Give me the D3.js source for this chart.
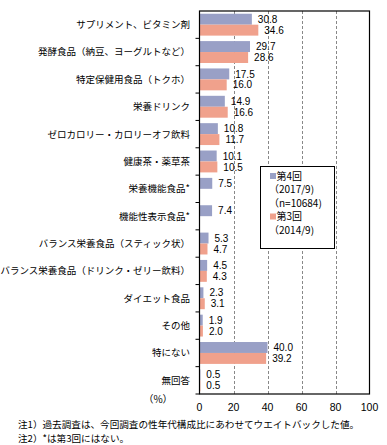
<!DOCTYPE html>
<html>
<head>
<meta charset="utf-8">
<script src="https://cdn.jsdelivr.net/npm/d3@7"></script>
<style>
  body { margin: 0; background: #fff; }
  svg text { font-family: "Noto Sans CJK JP", sans-serif; fill: #000; }
  .num { font-family: "Liberation Sans", Arial, sans-serif; }
</style>
</head>
<body>
<div id="chart"></div>
<script>
// categories (top to bottom)
const categories = [
    "サプリメント、ビタミン剤",
    "発酵食品（納豆、ヨーグルトなど）",
    "特定保健用食品（トクホ）",
    "栄養ドリンク",
    "ゼロカロリー・カロリーオフ飲料",
    "健康茶・薬草茶",
    "栄養機能食品*",
    "機能性表示食品*",
    "バランス栄養食品（スティック状）",
    "バランス栄養食品（ドリンク・ゼリー飲料）",
    "ダイエット食品",
    "その他",
    "特にない",
    "無回答"
];
// 第4回 (2017/9)
const round4 = [30.8, 29.7, 17.5, 14.9, 10.8, 10.1, 7.5, 7.4, 5.3, 4.5, 2.3, 1.9, 40.0, 0.5];
// 第3回 (2014/9), null = not asked
const round3 = [34.6, 28.6, 16.0, 16.6, 11.7, 10.5, null, null, 4.7, 4.3, 3.1, 2.0, 39.2, 0.5];
const xTicks = [0, 20, 40, 60, 80, 100];
const legendLines = ["第4回", "（2017/9)", "（n=10684)", "第3回", "（2014/9)"];
const notes = [
    "注1）過去調査は、今回調査の性年代構成比にあわせてウエイトバックした値。",
    "注2）*は第3回にはない。"
];

const colors = {r4: "#99a0c6", r3: "#f0a18c"};

const W = 387, H = 445;
const plot = {left: 199.5, right: 369.5, top: 11, bottom: 394};

const svg = d3.select("#chart").append("svg")
    .attr("width", W)
    .attr("height", H);

const x = d3.scaleLinear().domain([0, 100]).range([plot.left, plot.right]);
const y = d3.scaleBand().domain(categories)
    .range([plot.top, plot.bottom])
    .paddingInner(0.2).paddingOuter(0.1);
const barH = y.bandwidth() / 2;
const step = y.step();

// gridlines
svg.append("g").selectAll("line")
    .data(xTicks.filter(d => d > 0 && d < 100))
    .enter().append("line")
    .attr("x1", d => Math.round(x(d)) + 0.5)
    .attr("x2", d => Math.round(x(d)) + 0.5)
    .attr("y1", plot.top)
    .attr("y2", plot.bottom)
    .attr("stroke", "#888")
    .attr("stroke-dasharray", "3,2");

// bars
const rows = categories.map((c, i) => ({cat: c, r4: round4[i], r3: round3[i]}));

const groups = svg.append("g").selectAll("g")
    .data(rows)
    .enter().append("g")
    .attr("transform", d => `translate(0,${y(d.cat)})`);

groups.append("rect")
    .attr("x", x(0))
    .attr("y", 0)
    .attr("width", d => x(d.r4) - x(0))
    .attr("height", barH)
    .attr("fill", colors.r4);

groups.filter(d => d.r3 != null).append("rect")
    .attr("x", x(0))
    .attr("y", barH)
    .attr("width", d => x(d.r3) - x(0))
    .attr("height", barH)
    .attr("fill", colors.r3);

// value labels
groups.append("text")
    .attr("class", "num")
    .attr("x", d => x(d.r4) + 6)
    .attr("y", barH / 2)
    .attr("dy", "0.36em")
    .attr("font-size", "10px")
    .text(d => d.r4.toFixed(1));

groups.filter(d => d.r3 != null).append("text")
    .attr("class", "num")
    .attr("x", d => x(d.r3) + 6)
    .attr("y", barH * 1.5)
    .attr("dy", "0.36em")
    .attr("font-size", "10px")
    .text(d => d.r3.toFixed(1));

// category labels
svg.append("g").selectAll("text")
    .data(categories)
    .enter().append("text")
    .attr("x", 190)
    .attr("y", d => y(d) + y.bandwidth() / 2)
    .attr("dy", "0.36em")
    .attr("text-anchor", "end")
    .attr("font-size", "9.5px")
    .text(d => d);

// plot frame
svg.append("rect")
    .attr("x", plot.left)
    .attr("y", plot.top)
    .attr("width", plot.right - plot.left)
    .attr("height", plot.bottom - plot.top)
    .attr("fill", "none")
    .attr("stroke", "#000")
    .attr("stroke-width", 1.2);

// category ticks on the left axis
svg.append("g").selectAll("line")
    .data(d3.range(1, categories.length + 1))
    .enter().append("line")
    .attr("x1", plot.left - 4)
    .attr("x2", plot.left)
    .attr("y1", k => plot.top + k * step)
    .attr("y2", k => plot.top + k * step)
    .attr("stroke", "#000");

// x tick labels
svg.append("g").selectAll("text")
    .data(xTicks)
    .enter().append("text")
    .attr("class", "num")
    .attr("x", d => x(d))
    .attr("y", 407)
    .attr("dy", "0.36em")
    .attr("text-anchor", "middle")
    .attr("font-size", "10.5px")
    .text(d => d);

svg.append("text")
    .attr("x", 158)
    .attr("y", 399)
    .attr("dy", "0.36em")
    .attr("text-anchor", "middle")
    .attr("font-size", "10px")
    .text("（%）");

// legend
const lg = svg.append("g");
lg.append("rect")
    .attr("x", 260.5).attr("y", 166.5)
    .attr("width", 74).attr("height", 82)
    .attr("fill", "#fff")
    .attr("stroke", "#000");

const legendY = [176, 189.5, 203, 216.5, 230];
lg.selectAll("text")
    .data(legendLines)
    .enter().append("text")
    .attr("x", (d, i) => (i === 0 || i === 3) ? 276.5 : 269)
    .attr("y", (d, i) => legendY[i])
    .attr("dy", "0.36em")
    .attr("font-size", "10px")
    .text(d => d);

lg.selectAll("rect.key")
    .data([colors.r4, colors.r3])
    .enter().append("rect")
    .attr("class", "key")
    .attr("x", 270)
    .attr("y", (d, i) => legendY[i * 3] - 3)
    .attr("width", 6)
    .attr("height", 6)
    .attr("fill", d => d);

// notes
svg.append("g").selectAll("text")
    .data(notes)
    .enter().append("text")
    .attr("x", 18)
    .attr("y", (d, i) => 425 + i * 13.5)
    .attr("dy", "0.36em")
    .attr("font-size", "9.6px")
    .text(d => d);
</script>
</body>
</html>
